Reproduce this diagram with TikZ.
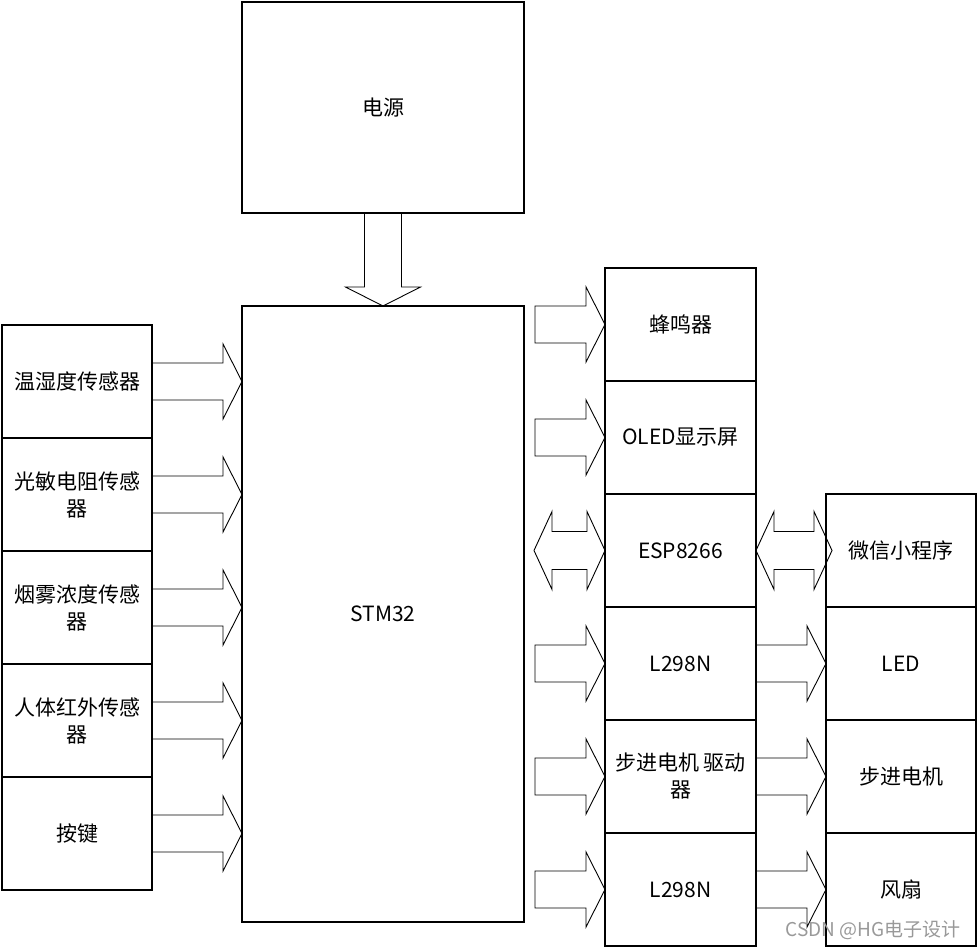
\documentclass[tikz,border=0pt]{standalone}
\usepackage{fontspec}
\setmainfont{Noto Sans CJK SC}
\usetikzlibrary{positioning, calc}

% block arrow from #1 to #2
\newcommand{\fatarrow}[2]{%
  \path (#2) coordinate (tip) ($(#2)!19pt!(#1)$) coordinate (hb);
  \draw[blk] ($(#1)!18.5pt!90:(#2)$) -- ($(hb)!18.5pt!90:(tip)$) -- ($(hb)!37.5pt!90:(tip)$)
    -- (tip) -- ($(hb)!37.5pt!-90:(tip)$) -- ($(hb)!18.5pt!-90:(tip)$) -- ($(#1)!18.5pt!-90:(#2)$) -- cycle;
}
% block arrow with two heads
\newcommand{\dblarrow}[2]{%
  \path ($(#1)!18pt!(#2)$) coordinate (ha) ($(#2)!18pt!(#1)$) coordinate (hb);
  \draw[blk] (#1) -- ($(ha)!39pt!90:(#2)$) -- ($(ha)!19pt!90:(#2)$) -- ($(hb)!19pt!-90:(#1)$)
    -- ($(hb)!39pt!-90:(#1)$) -- (#2) -- ($(hb)!39pt!90:(#1)$) -- ($(hb)!19pt!90:(#1)$)
    -- ($(ha)!19pt!-90:(#2)$) -- ($(ha)!39pt!-90:(#2)$) -- cycle;
}

\begin{document}
\begin{tikzpicture}[x=1pt, y=-1pt,
    box/.style={draw, line width=1.2pt, align=center, inner sep=0pt, outer sep=0pt,
      font=\fontsize{21}{27}\selectfont},
    sens/.style={box, minimum width=150pt, minimum height=113pt},
    unit/.style={box, minimum width=151pt, minimum height=113pt},
    blk/.style={line width=0.9pt, line join=miter}]
    \useasboundingbox (0,0) rectangle (979,949);

    % main blocks
    \node[box, minimum width=282pt, minimum height=211pt] (pwr) at (383,107.5) {电源};
    \node[box, minimum width=282pt, minimum height=616pt] (stm) at (383,614) {STM32};

    % inputs
    \node[sens] (th) at (77,381.5) {温湿度传感器};
    \node[sens, below=0pt of th] (ldr) {光敏电阻传感\\器};
    \node[sens, below=0pt of ldr] (smoke) {烟雾浓度传感\\器};
    \node[sens, below=0pt of smoke] (pir) {人体红外传感\\器};
    \node[sens, below=0pt of pir] (key) {按键};

    % outputs
    \node[unit] (buz) at (680.5,324.5) {蜂鸣器};
    \node[unit, below=0pt of buz] (oled) {OLED显示屏};
    \node[unit, below=0pt of oled] (esp) {ESP8266};
    \node[unit, below=0pt of esp] (drv1) {L298N};
    \node[unit, below=0pt of drv1] (drv2) {步进电机 驱动\\器};
    \node[unit, below=0pt of drv2] (drv3) {L298N};

    \node[sens] (wx) at (901,550.5) {微信小程序};
    \node[sens, below=0pt of wx] (led) {LED};
    \node[sens, below=0pt of led] (motor) {步进电机};
    \node[sens, below=0pt of motor] (fan) {风扇};

    % arrows
    \fatarrow{pwr.south}{stm.north}
    \foreach \s in {th, ldr, smoke, pir, key}
        \fatarrow{\s.east}{\s.east -| stm.west};
    \foreach \d in {buz, oled, drv1, drv2, drv3}
        \fatarrow{$(\d.west -| stm.east)+(11,0)$}{\d.west};
    \dblarrow{$(esp.west -| stm.east)+(10,0)$}{esp.west}
    \dblarrow{esp.east}{$(wx.west)+(6,0)$}
    \fatarrow{led.west -| drv1.east}{led.west}
    \fatarrow{motor.west -| drv2.east}{motor.west}
    \fatarrow{fan.west -| drv3.east}{fan.west}

    \node[anchor=east, text=black!40, font=\fontsize{19}{22}\selectfont] (mark) at (964,930) {CSDN @HG电子设计};
\end{tikzpicture}
\end{document}
